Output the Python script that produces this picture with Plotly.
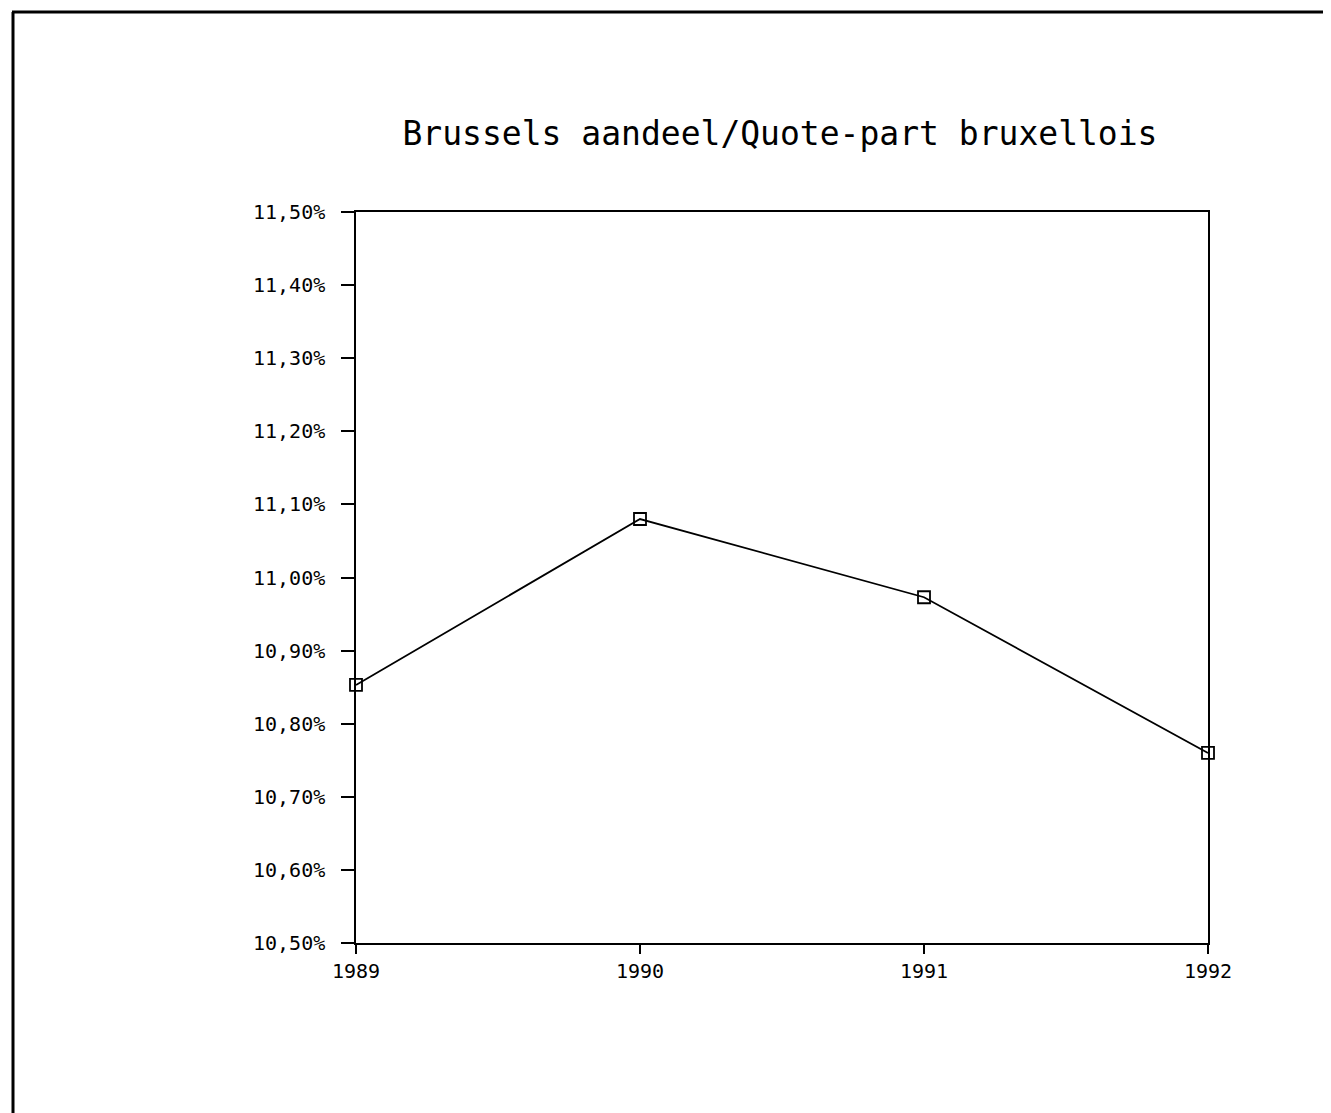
import plotly.graph_objects as go

years = [1989, 1990, 1991, 1992]
share_pct = [10.853, 11.08, 10.973, 10.76]
y_ticks = [10.5, 10.6, 10.7, 10.8, 10.9, 11.0, 11.1, 11.2, 11.3, 11.4, 11.5]
y_ticktext = [f"{v:.2f}".replace(".", ",") + "%" for v in y_ticks]
title_text = "Brussels aandeel/Quote-part bruxellois"

OFF = 8  # page body margin
W, H = 1331 - OFF, 1113 - OFF
L, R, T, B = 356 - OFF, 1331 - 1208, 212 - OFF, 1113 - 943
pw, ph = W - L - R, H - T - B

def px(x):
    return (x - OFF - L) / pw

def py(y):
    return (H - B - (y - OFF)) / ph

fig = go.Figure()
fig.add_trace(go.Scatter(
    x=years, y=share_pct, mode="lines+markers",
    line=dict(color="black", width=1.8),
    marker=dict(symbol="square-open", size=12, color="black", line=dict(width=1.8)),
    cliponaxis=False, showlegend=False,
))

font = "DejaVu Sans Mono"
fig.update_layout(
    width=W, height=H,
    margin=dict(l=L, r=R, t=T, b=B),
    paper_bgcolor="white", plot_bgcolor="white",
    title=dict(text=title_text, xref="container", x=(780 - OFF) / W, xanchor="center",
               y=1 - (133 - OFF) / H, yanchor="middle",
               font=dict(family=font, size=33, color="black")),
    xaxis=dict(range=[1989, 1992], tickvals=years, ticks="outside", ticklen=9, tickwidth=1.5,
               tickcolor="black", showline=True, linecolor="black", linewidth=1.5, mirror=True,
               showgrid=False, zeroline=False,
               tickfont=dict(family=font, size=20, color="black")),
    yaxis=dict(range=[10.5, 11.5], tickvals=y_ticks, ticktext=y_ticktext,
               ticks="outside", ticklen=13, tickwidth=1.5, tickcolor="black",
               showline=True, linecolor="black", linewidth=1.5, mirror=True,
               showgrid=False, zeroline=False, ticklabelstandoff=12,
               tickfont=dict(family=font, size=20, color="black")),
)

# outer page frame (left and top edges visible)
fig.add_shape(type="line", xref="paper", yref="paper", x0=px(13), x1=px(13), y0=py(1113 + 5), y1=py(12),
              line=dict(color="black", width=3))
fig.add_shape(type="line", xref="paper", yref="paper", x0=px(12), x1=px(1331 + 5), y0=py(12), y1=py(12),
              line=dict(color="black", width=3))

fig.write_html("out.html")
